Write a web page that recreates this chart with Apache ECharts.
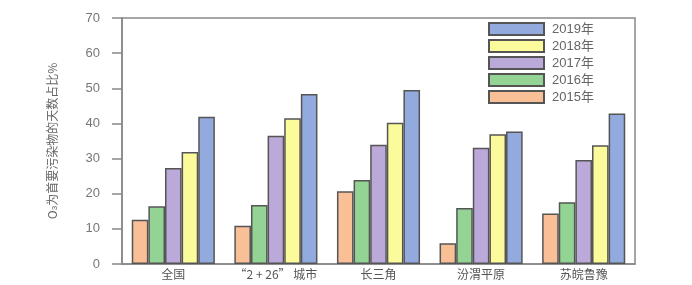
<!DOCTYPE html>
<html><head><meta charset="utf-8">
<script src="https://cdn.jsdelivr.net/npm/echarts@6/dist/echarts.min.js"></script>
<style>html,body{margin:0;padding:0;background:#fff}#c{width:692px;height:285px}</style>
</head><body><div id="c"></div>
<script>
const categories = ['全国', '“2 + 26” 城市', '长三角', '汾渭平原', '苏皖鲁豫'];
const yTicks = [0, 10, 20, 30, 40, 50, 60, 70];
const years = ['2015年', '2016年', '2017年', '2018年', '2019年'];
const v2015 = [12.6, 10.9, 20.7, 5.9, 14.4];
const v2016 = [16.4, 16.8, 23.9, 15.9, 17.6];
const v2017 = [27.3, 36.5, 33.9, 33.1, 29.6];
const v2018 = [31.9, 41.5, 40.2, 36.9, 33.8];
const v2019 = [41.9, 48.4, 49.5, 37.7, 42.8];
const colors = ['#f9bf97', '#93d393', '#baa9d9', '#fbfb9b', '#92aadd'];
const seriesValues = [v2015, v2016, v2017, v2018, v2019];
const font = '"Liberation Sans", "Noto Sans CJK SC", sans-serif';

const chart = echarts.init(document.getElementById('c'));
chart.setOption({
  animation: false,
  textStyle: { fontFamily: font },
  grid: { left: 122, right: 57, top: 18, bottom: 21, show: true, borderColor: '#888', borderWidth: 1.5 },
  legend: {
    data: years.slice().reverse(),
    orient: 'vertical',
    icon: 'rect',
    left: 488, top: 22,
    itemWidth: 55, itemHeight: 12, itemGap: 3,
    textStyle: { color: '#666', fontSize: 13, fontFamily: font, padding: [0, 0, 0, 3] },
    padding: 0
  },
  xAxis: {
    type: 'category', data: categories,
    axisLine: { lineStyle: { color: '#888', width: 1.5 } },
    axisTick: { show: false },
    axisLabel: { color: '#555', fontSize: 12, margin: 4, interval: 0, fontFamily: '"Noto Sans CJK SC", sans-serif' }
  },
  yAxis: {
    type: 'value', min: yTicks[0], max: yTicks[yTicks.length - 1], interval: 10,
    name: '{a|O}{s|3}{a|为首要污染物的天数占比%}',
    nameLocation: 'middle', nameRotate: 90, nameGap: 63,
    nameTextStyle: { rich: { a: { fontSize: 12, color: '#666', fontFamily: '"Noto Sans CJK SC", sans-serif' }, s: { fontSize: 8, color: '#666', verticalAlign: 'bottom', padding: [6, 0, 0, 0] } } },
    axisLine: { show: true, lineStyle: { color: '#888', width: 1.5 } },
    axisTick: { show: true, inside: false, length: 10, lineStyle: { color: '#888', width: 1.5 } },
    axisLabel: { color: '#777', fontSize: 13, margin: 22, fontFamily: font },
    splitLine: { show: false }
  },
  series: years.map((y, i) => ({
    name: y, type: 'bar', data: seriesValues[i],
    barGap: '0%', barCategoryGap: '19%',
    itemStyle: { color: colors[i], borderColor: '#555', borderWidth: 1.5 }
  }))
});
</script></body></html>
